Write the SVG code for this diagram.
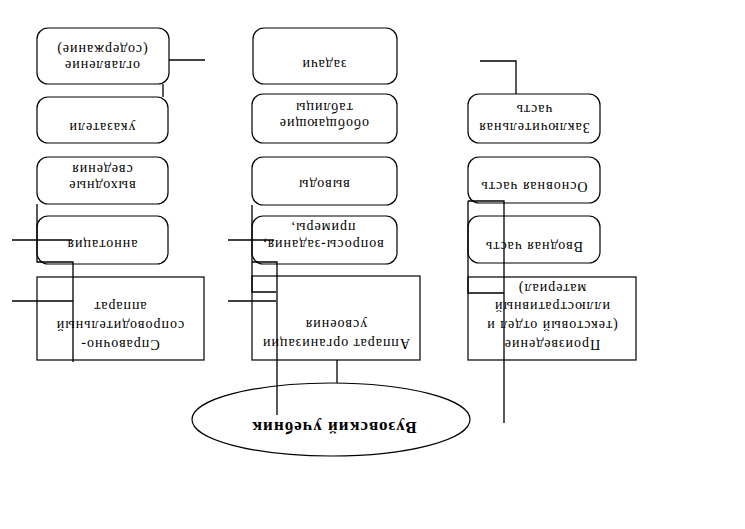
<svg xmlns="http://www.w3.org/2000/svg" width="745" height="529" viewBox="0 0 745 529">
<style>
.n{fill:#fff;stroke:#000;stroke-width:1.2}
.c{fill:none;stroke:#000;stroke-width:1.3}
.t{font-family:"Liberation Serif","DejaVu Serif",serif;font-size:14px;letter-spacing:1px;text-anchor:middle;dominant-baseline:central;fill:#000}
.b{font-family:"Liberation Serif","DejaVu Serif",serif;font-size:17px;font-weight:bold;letter-spacing:1px;text-anchor:middle;dominant-baseline:central;fill:#000}
</style>
<rect width="745" height="529" fill="#fff"/>
<g id="n-ogl"><rect class="n" x="37" y="28" width="132" height="56" rx="11"/>
<text class="t" x="102" y="65" transform="rotate(180 102 65)">оглавление</text>
<text class="t" x="102" y="49" transform="rotate(180 102 49)">(содержание)</text></g>
<g id="n-ukaz"><rect class="n" x="37" y="97" width="131" height="46" rx="11"/>
<text class="t" x="102" y="127" transform="rotate(180 102 127)">указатели</text></g>
<g id="n-vyh"><rect class="n" x="37" y="157" width="131" height="47" rx="11"/>
<text class="t" x="102" y="185" transform="rotate(180 102 185)">выходные</text>
<text class="t" x="102" y="169" transform="rotate(180 102 169)">сведения</text></g>
<g id="n-ann"><rect class="n" x="37" y="216" width="131" height="48" rx="11"/>
<text class="t" x="102" y="244" transform="rotate(180 102 244)">аннотация</text></g>
<g id="n-sprav"><rect class="n" x="37" y="277" width="167" height="83"/>
<text class="t" x="120" y="344" transform="rotate(180 120 344)">Справочно-</text>
<text class="t" x="120" y="325" transform="rotate(180 120 325)">сопроводительный</text>
<text class="t" x="120" y="306" transform="rotate(180 120 306)">аппарат</text></g>

<g id="n-zad"><rect class="n" x="253" y="28" width="144" height="56" rx="11"/>
<text class="t" x="324" y="64" transform="rotate(180 324 64)">задачи</text></g>
<g id="n-obob"><rect class="n" x="252" y="94" width="145" height="49" rx="11"/>
<text class="t" x="324" y="123" transform="rotate(180 324 123)">обобщающие</text>
<text class="t" x="324" y="107" transform="rotate(180 324 107)">таблицы</text></g>
<g id="n-vyv"><rect class="n" x="252" y="157" width="145" height="48" rx="11"/>
<text class="t" x="324" y="184" transform="rotate(180 324 184)">выводы</text></g>
<g id="n-vopr"><rect class="n" x="252" y="216" width="145" height="48" rx="11"/>
<text class="t" x="323" y="244" transform="rotate(180 323 244)">вопросы-задания,</text>
<text class="t" x="323" y="227" transform="rotate(180 323 227)">примеры,</text></g>
<g id="n-app"><rect class="n" x="252" y="276" width="168" height="84"/>
<text class="t" x="336" y="343" transform="rotate(180 336 343)">Аппарат организации</text>
<text class="t" x="336" y="324" transform="rotate(180 336 324)">усвоения</text></g>

<g id="n-zakl"><rect class="n" x="468" y="94" width="132" height="49" rx="11"/>
<text class="t" x="534" y="127" transform="rotate(180 534 127)">Заключительная</text>
<text class="t" x="534" y="109" transform="rotate(180 534 109)">часть</text></g>
<g id="n-osn"><rect class="n" x="468" y="157" width="132" height="46" rx="11"/>
<text class="t" x="534" y="186" transform="rotate(180 534 186)">Основная часть</text></g>
<g id="n-vvod"><rect class="n" x="468" y="216" width="132" height="47" rx="11"/>
<text class="t" x="534" y="246" transform="rotate(180 534 246)">Вводная часть</text></g>
<g id="n-proizv"><rect class="n" x="468" y="277" width="168" height="83"/>
<text class="t" x="552" y="344" transform="rotate(180 552 344)">Произведение</text>
<text class="t" x="552" y="325" transform="rotate(180 552 325)">(текстовый отдел и</text>
<text class="t" x="552" y="306" transform="rotate(180 552 306)">иллюстративный</text>
<text class="t" x="552" y="288" transform="rotate(180 552 288)">материал)</text></g>

<g id="n-vuz"><ellipse class="n" cx="331" cy="419.5" rx="139" ry="36.5"/>
<text class="b" x="334" y="427" transform="rotate(180 334 427)">Вузовский учебник</text></g>

<g id="connectors" class="c">
<path d="M169 60H205"/>
<path d="M163 84V97"/>
<path d="M37 204V262H73V362"/>
<path d="M12 240H72"/>
<path d="M12 301H73"/>
<path d="M252 205V292H276"/>
<path d="M252 262H277V415"/>
<path d="M228 240H274"/>
<path d="M228 301H276"/>
<path d="M337 360V383"/>
<path d="M516 94V61H480"/>
<path d="M468 201V293H504"/>
<path d="M468 201H504V423"/>
</g>
</svg>
